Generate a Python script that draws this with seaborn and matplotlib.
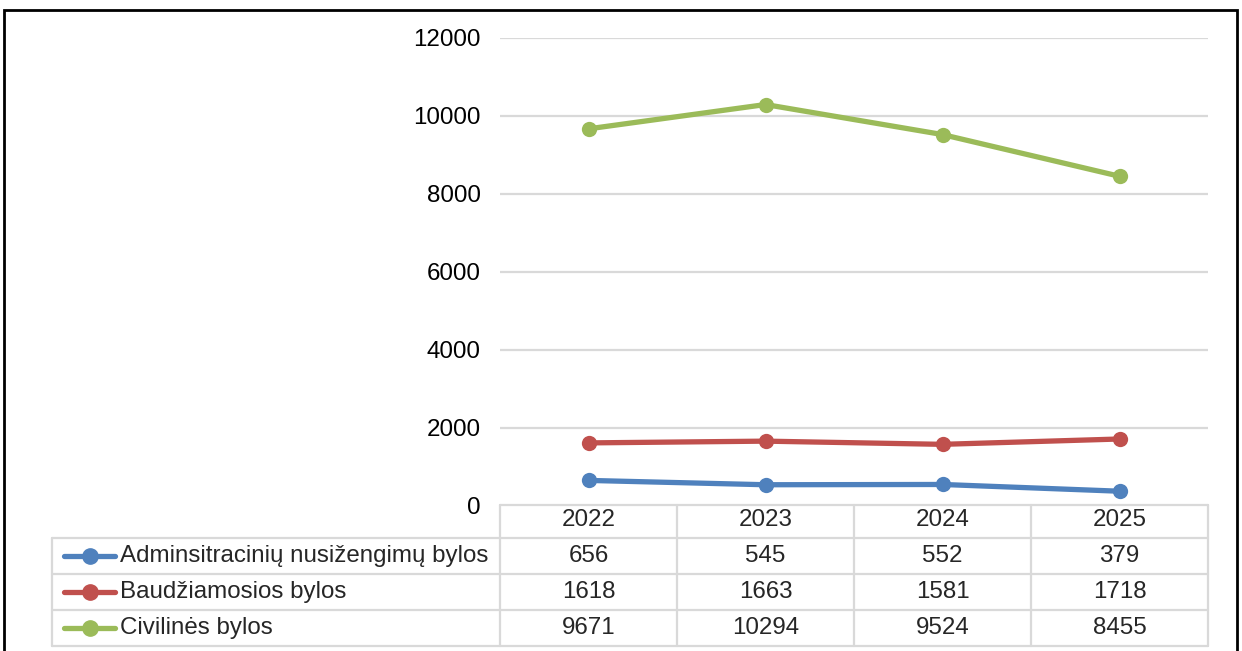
import numpy as np
import pandas as pd
import matplotlib
matplotlib.use("Agg")
import matplotlib.pyplot as plt
import seaborn as sns
from matplotlib.patches import Rectangle

# data
years = ["2022", "2023", "2024", "2025"]
series_names = ["Adminsitracinių nusižengimų bylos", "Baudžiamosios bylos", "Civilinės bylos"]
admin_vals = [656, 545, 552, 379]
baudz_vals = [1618, 1663, 1581, 1718]
civil_vals = [9671, 10294, 9524, 8455]
colors = ["#4F81BD", "#C0504D", "#9BBB59"]
y_ticks = [0, 2000, 4000, 6000, 8000, 10000, 12000]

W, H = 1242, 651
sns.set_theme(style="white")
plt.rcParams["font.family"] = ["Liberation Sans", "DejaVu Sans"]
FS = 17.4

df = pd.DataFrame({
    "pos": list(range(len(years))) * 3,
    "value": admin_vals + baudz_vals + civil_vals,
    "series": sum([[s] * len(years) for s in series_names], []),
})

fig = plt.figure(figsize=(W / 100, H / 100), dpi=100)

def px_axes(x0, y0, x1, y1):
    # axes placed by pixel box (top-left origin)
    return fig.add_axes([x0 / W, 1 - y1 / H, (x1 - x0) / W, (y1 - y0) / H])

# main plot area
ax = px_axes(500, 38, 1208, 506)
sns.lineplot(data=df, x="pos", y="value", hue="series", palette=colors,
             marker="o", markersize=11, markeredgewidth=0, linewidth=3.8,
             ax=ax, legend=False, zorder=3)
ax.set_xlim(-0.5, len(years) - 0.5)
ax.set_ylim(0, 12000)
ax.set_yticks(y_ticks)
ax.set_yticklabels([str(t) for t in y_ticks], fontsize=FS, color="black")
ax.set_xticks([])
ax.tick_params(axis="y", length=0, pad=14)
ax.yaxis.grid(True, color="#d9d9d9", linewidth=1.6)
ax.set_axisbelow(True)
for s in ax.spines.values():
    s.set_visible(False)
ax.set_xlabel("")
ax.set_ylabel("")

# data table under the plot
label_units = 448 / 177.0
ax_t = px_axes(52, 505, 1208, 646)
ax_t.set_xlim(-0.5 - label_units, len(years) - 0.5)
row_h = [33, 36, 36, 36]
edges = np.cumsum([0] + row_h)
ax_t.set_ylim(edges[-1], 0)
ax_t.axis("off")
gc = "#d9d9d9"
lw = 1.6
x_left = -0.5 - label_units
x_data = -0.5
x_right = len(years) - 0.5
# horizontal lines
ax_t.plot([x_data, x_right], [edges[0], edges[0]], color=gc, lw=lw, clip_on=False)
for e in edges[1:]:
    ax_t.plot([x_left, x_right], [e, e], color=gc, lw=lw, clip_on=False)
# vertical lines
ax_t.plot([x_left, x_left], [edges[1], edges[-1]], color=gc, lw=lw, clip_on=False)
for i in range(len(years) + 1):
    ax_t.plot([i - 0.5, i - 0.5], [edges[0], edges[-1]], color=gc, lw=lw, clip_on=False)

for i, y in enumerate(years):
    ax_t.text(i, (edges[0] + edges[1]) / 2 - 1, y, ha="center", va="center", fontsize=FS)

rows = [admin_vals, baudz_vals, civil_vals]
key_x0 = x_left + 12 / 177.0
key_x1 = x_left + 63 / 177.0
for r, (name, vals, c) in enumerate(zip(series_names, rows, colors)):
    yc = (edges[r + 1] + edges[r + 2]) / 2
    ax_t.plot([key_x0, key_x1], [yc, yc], color=c, lw=3.8, solid_capstyle="round", clip_on=False)
    ax_t.plot([(key_x0 + key_x1) / 2], [yc], "o", color=c, markersize=11, clip_on=False)
    ax_t.text(x_left + 68 / 177.0, yc, name, ha="left", va="center", fontsize=FS)
    for i, v in enumerate(vals):
        ax_t.text(i, yc, str(v), ha="center", va="center", fontsize=FS)

# outer chart border
fig.patches.append(Rectangle((4 / W, -0.05), (1237 - 4) / W, 1.05 - 10 / H,
                             transform=fig.transFigure, fill=False,
                             edgecolor="black", linewidth=2))

fig.savefig("out.png", dpi=100)
